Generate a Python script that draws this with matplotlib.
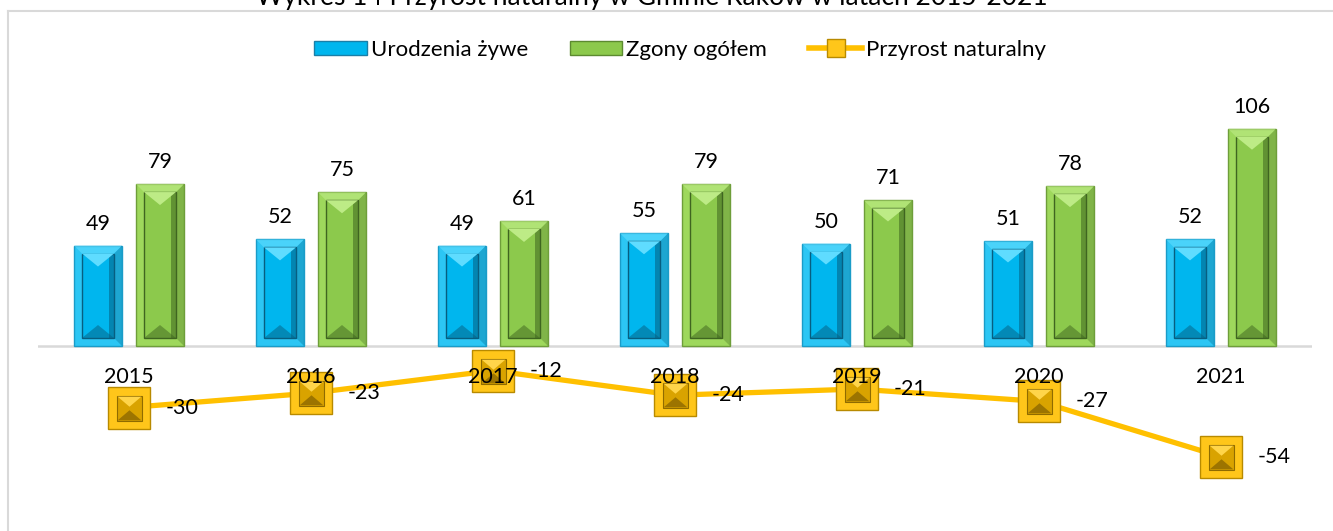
import matplotlib
matplotlib.use("Agg")
import matplotlib.pyplot as plt
from matplotlib.patches import Rectangle, Polygon, Patch
from matplotlib.lines import Line2D
from matplotlib.path import Path
import numpy as np

# ---- data ----
years = ["2015", "2016", "2017", "2018", "2019", "2020", "2021"]
births = [49, 52, 49, 55, 50, 51, 52]
deaths = [79, 75, 61, 79, 71, 78, 106]
natural = [-30, -23, -12, -24, -21, -27, -54]
series_names = ["Urodzenia żywe", "Zgony ogółem", "Przyrost naturalny"]
title = "Wykres 14 Przyrost naturalny w Gminie Raków w latach 2015-2021"

FONT = ["Lato", "DejaVu Sans"]
plt.rcParams["font.family"] = FONT

W, H, DPI = 1333, 531, 100
fig = plt.figure(figsize=(W / DPI, H / DPI), dpi=DPI)
fig.patch.set_facecolor("white")

# axes placement (pixels)
ax_l, ax_r, ax_t, ax_b = 38, 1312, 100, 510
ax = fig.add_axes([ax_l / W, 1 - ax_b / H, (ax_r - ax_l) / W, (ax_b - ax_t) / H])
ymin, ymax = -80, 120
ax.set_xlim(-0.5, len(years) - 0.5)
ax.set_ylim(ymin, ymax)
ax.axis("off")

px_x = 1.0 / ((ax_r - ax_l) / len(years))      # data units per pixel (x)
px_y = (ymax - ymin) / (ax_b - ax_t)            # data units per pixel (y)

x = np.arange(len(years))
bw = 48 * px_x
off = 31 * px_x

ax.axhline(0, color="#D9D9D9", lw=1.8, zorder=1)


def bevel_bar(xc, h, outer, edge, inner, light, dark, shade):
    xl, xr = xc - bw / 2, xc + bw / 2
    ax.bar(xc, h, width=bw, color=outer, edgecolor=edge, linewidth=1.0, zorder=2)
    ix, iy = 8 * px_x, 8 * px_y
    il, ir, ib, it = xl + ix, xr - ix, iy, h - iy
    ax.add_patch(Polygon([(xr, 0), (xr, h), (ir, it), (ir, ib)], closed=True,
                         facecolor=shade, edgecolor="none", zorder=2.1, alpha=0.45))
    ax.add_patch(Polygon([(xl, h), (xr, h), (ir, it), (il, it)], closed=True,
                         facecolor=light, edgecolor="none", zorder=2.1, alpha=0.6))
    ax.add_patch(Rectangle((il, ib), ir - il, it - ib, facecolor=inner,
                           edgecolor=dark, linewidth=1.0, zorder=2.2))
    ax.add_patch(Rectangle((ir - 5 * px_x, ib), 5 * px_x, it - ib, facecolor=dark,
                           edgecolor="none", alpha=0.55, zorder=2.3))
    tri = 13 * px_y
    ax.add_patch(Polygon([(il, it), (ir, it), ((il + ir) / 2, it - tri)], closed=True,
                         facecolor=light, edgecolor="none", zorder=2.4))
    ax.add_patch(Polygon([(il, ib), (ir, ib), ((il + ir) / 2, ib + tri)], closed=True,
                         facecolor=dark, edgecolor="none", alpha=0.5, zorder=2.4))


for xi, b, d in zip(x, births, deaths):
    bevel_bar(xi - off, b, "#2CC6F4", "#1A9CC8", "#00B6EE", "#5FDCFF", "#075E80", "#0B7FA8")
    bevel_bar(xi + off, d, "#9ED85C", "#6E9E3A", "#8CC94C", "#BDEB86", "#3F6520", "#5C8A30")

lab_fs = 15.5
for xi, b, d in zip(x, births, deaths):
    ax.annotate(str(b), (xi - off, b), xytext=(0, 12), textcoords="offset pixels",
                ha="center", va="bottom", fontsize=lab_fs, color="#000000", zorder=6)
    ax.annotate(str(d), (xi + off, d), xytext=(0, 12), textcoords="offset pixels",
                ha="center", va="bottom", fontsize=lab_fs, color="#000000", zorder=6)

# line series
gold, gold_edge = "#FFC000", "#B88A00"
ax.plot(x, natural, color=gold, lw=3.8, zorder=3, solid_capstyle="round")
ax.plot(x, natural, ls="none", marker="s", ms=30, mfc="#FFC61A", mec=gold_edge,
        mew=1.0, zorder=4)
ax.plot(x, natural, ls="none", marker="s", ms=18, mfc="#D9A300", mec="#8F6B00",
        mew=0.8, zorder=4.1)
tri_top = Path([(-1, 1), (1, 1), (0, 0.15), (-1, 1)], closed=True)
tri_bot = Path([(-1, -1), (1, -1), (0, -0.15), (-1, -1)], closed=True)
ax.plot(x, natural, ls="none", marker=tri_top, ms=17, mfc="#FFD54A", mec="none", zorder=4.2)
ax.plot(x, natural, ls="none", marker=tri_bot, ms=17, mfc="#9C7400", mec="none", zorder=4.2)

for xi, v in zip(x, natural):
    ax.annotate(str(v), (xi, v), xytext=(37, 0), textcoords="offset pixels",
                ha="left", va="center", fontsize=lab_fs, color="#000000", zorder=6)

# category labels
for xi, yl in zip(x, years):
    ax.annotate(yl, (xi, 0), xytext=(0, -31), textcoords="offset pixels",
                ha="center", va="center", fontsize=lab_fs, color="#000000", zorder=7)

# legend
handles = [
    Patch(facecolor="#00B6EE", edgecolor="#1A7FA8", linewidth=1.0),
    Patch(facecolor="#8CC94C", edgecolor="#5C8A30", linewidth=1.0),
    Line2D([0], [0], color=gold, lw=4, marker="s", ms=13, mfc="#FFC61A", mec=gold_edge),
]
fig.legend(handles, series_names, loc="center", bbox_to_anchor=(680 / W, 1 - 50 / H),
           ncol=3, frameon=False, fontsize=16, handlelength=2.35, handleheight=0.63,
           handletextpad=0.18, columnspacing=1.9)

# title (cut off at the top edge, as in the source)
fig.text(652 / W, 1 - 5 / H, title, ha="center", va="baseline", fontsize=19, color="#000000")

# chart border (light grey, only top and left visible)
fig.add_artist(Line2D([8 / W, 1], [1 - 11 / H, 1 - 11 / H], transform=fig.transFigure,
                      color="#D9D9D9", lw=1.5))
fig.add_artist(Line2D([8 / W, 8 / W], [0, 1 - 11 / H], transform=fig.transFigure,
                      color="#D9D9D9", lw=1.5))

fig.savefig("out.png", dpi=DPI, facecolor="white")
